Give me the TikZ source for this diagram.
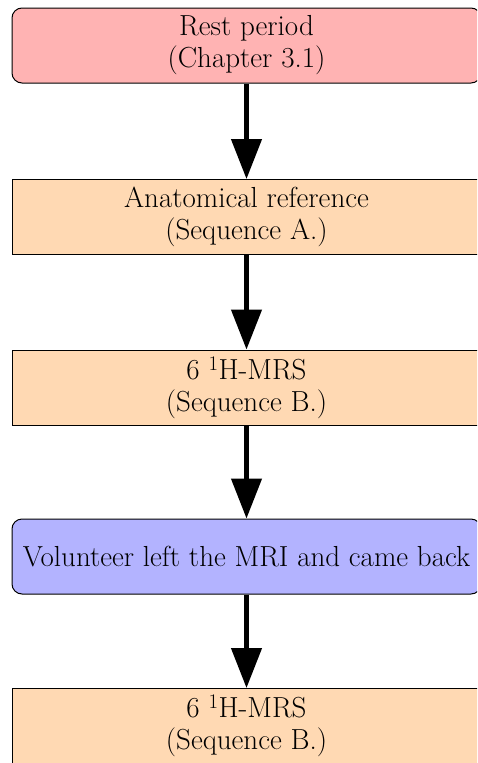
\documentclass[tikz,border=0pt]{standalone}
\usetikzlibrary{arrows.meta}
\definecolor{restfill}{RGB}{255,179,179}
\definecolor{seqfill}{RGB}{255,217,179}
\definecolor{breakfill}{RGB}{179,179,255}
\begin{document}
\begin{tikzpicture}[x=1pt,y=-1pt,
  box/.style={draw=black, line width=1pt, minimum width=469pt, minimum height=75pt,
    inner sep=0pt, align=center, font=\fontsize{29}{32}\selectfont},
  roundbox/.style={box, rounded corners=10pt},
  flow/.style={line width=4.5pt, -{Triangle[length=40pt,width=30pt]}}]
\useasboundingbox (0,0) rectangle (477,763);
\clip (0,0) rectangle (477,763);
\node[roundbox, fill=restfill] (rest) at (246.5,45.5) {Rest period\\(Chapter 3.1)};
\node[box, fill=seqfill] (anat) at (246.5,217) {Anatomical reference\\(Sequence A.)};
\node[box, fill=seqfill] (mrsa) at (246.5,387.5) {6 $^1$H-MRS\\(Sequence B.)};
\node[roundbox, fill=breakfill] (leave) at (246.5,556.5) {Volunteer left the MRI and came back};
\node[box, fill=seqfill] (mrsb) at (246.5,726) {6 $^1$H-MRS\\(Sequence B.)};
\draw[flow] (rest) -- (anat);
\draw[flow] (anat) -- (mrsa);
\draw[flow] (mrsa) -- (leave);
\draw[flow] (leave) -- (mrsb);
\end{tikzpicture}
\end{document}
